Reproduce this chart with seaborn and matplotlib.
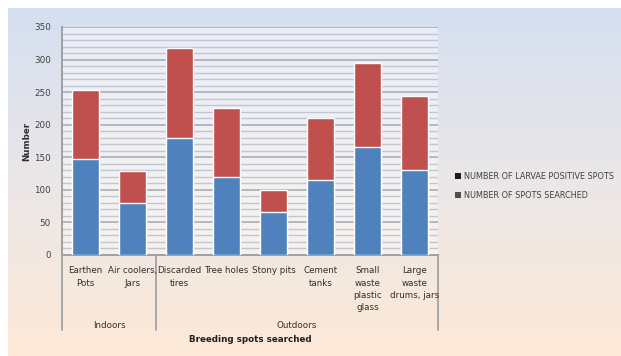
import numpy as np
import pandas as pd
import matplotlib
matplotlib.use("Agg")
import matplotlib.pyplot as plt
from matplotlib.colors import LinearSegmentedColormap
from matplotlib.patches import Patch
from matplotlib.lines import Line2D
import seaborn as sns

# Breeding spot categories (display labels, wrapped as in the category axis)
categories = ["Earthen\nPots", "Air coolers,\nJars", "Discarded\ntires", "Tree holes",
              "Stony pits", "Cement\ntanks", "Small\nwaste\nplastic\nglass",
              "Large\nwaste\ndrums, jars"]
groups = ["Indoors", "Outdoors"]
group_sizes = [2, 6]

# Stacked series
spots_searched = [147, 80, 180, 120, 66, 115, 166, 130]
larvae_positive = [106, 49, 138, 106, 34, 95, 129, 114]

series_names = ["NUMBER OF LARVAE POSITIVE SPOTS", "NUMBER OF SPOTS SEARCHED"]
y_ticks = [0, 50, 100, 150, 200, 250, 300, 350]

df = pd.DataFrame({
    "category": categories,
    "searched": spots_searched,
    "positive": larvae_positive,
})
df["total"] = df["searched"] + df["positive"]

BLUE = "#4f81bd"
RED = "#c0504d"

sns.set_theme(style="white")
plt.rcParams["font.family"] = ["DejaVu Sans"]

W, H = 621, 356
fig = plt.figure(figsize=(W / 100, H / 100), dpi=100)
fig.patch.set_facecolor("white")

# Chart-area background gradient (light blue to peach)
bg = fig.add_axes([8 / W, 0, 1 - 8 / W, 1 - 8 / H], zorder=0)
cmap = LinearSegmentedColormap.from_list("bg", ["#d5dff0", "#ebe7e8", "#fde9d6"])
grad = np.linspace(0, 1, 256).reshape(-1, 1)
bg.imshow(grad, aspect="auto", cmap=cmap, extent=[0, 1, 0, 1], origin="upper")
bg.set_axis_off()

# Plot area
x0, x1 = 62 / W, 438 / W
y_top, y_bot = 27, 255
ax = fig.add_axes([x0, 1 - y_bot / H, x1 - x0, (y_bot - y_top) / H], zorder=2)
ax.set_facecolor((1, 1, 1, 0.45))

sns.barplot(data=df, x="category", y="total", color=RED, width=0.57,
            saturation=1, ax=ax, zorder=3)
sns.barplot(data=df, x="category", y="searched", color=BLUE, width=0.57,
            saturation=1, ax=ax, zorder=4)

ax.set_ylim(0, 350)
ax.set_xlim(-0.5, len(categories) - 0.5)
ax.set_yticks(y_ticks)
ax.set_yticklabels([str(v) for v in y_ticks], fontsize=6.3, color="#404040")
ax.set_yticks(np.arange(0, 351, 10), minor=True)
ax.grid(axis="y", which="minor", color="#c2c6d2", linewidth=1.0, zorder=1)
ax.grid(axis="y", which="major", color="#a9adb9", linewidth=1.2, zorder=1)
ax.set_axisbelow(True)
ax.tick_params(axis="y", which="both", length=0, pad=8)
ax.set_xticks([])
ax.set_xlabel("")
ax.set_ylabel("Number", fontsize=6.3, fontweight="bold", color="#303030", labelpad=2)
for side in ["top", "right"]:
    ax.spines[side].set_visible(False)
ax.spines["left"].set_color("#a0a0a0")
ax.spines["left"].set_linewidth(1.4)
ax.spines["bottom"].set_color("#a0a0a0")
ax.spines["bottom"].set_linewidth(1.4)

# Category labels and the two-level group axis below the plot
trans = ax.get_xaxis_transform()
for i, lab in enumerate(categories):
    ax.text(i, -0.05, lab, transform=trans, ha="center", va="top",
            fontsize=6.3, color="#303030", linespacing=1.45, clip_on=False)

y_sep = -(330 - y_bot) / (y_bot - y_top)
edges = np.concatenate([[0], np.cumsum(group_sizes)]) - 0.5
for e in edges:
    ax.add_line(Line2D([e, e], [0, y_sep], transform=trans, color="#a8a8a8",
                       linewidth=1.4, clip_on=False))
y_grp = -(326 - y_bot) / (y_bot - y_top)
for g, a, b in zip(groups, edges[:-1], edges[1:]):
    ax.text((a + b) / 2, y_grp, g, transform=trans, ha="center", va="center",
            fontsize=6.3, color="#303030", clip_on=False)
ax.text(0.5, -(340 - y_bot) / (y_bot - y_top), "Breeding spots searched",
        transform=ax.transAxes, ha="center", va="center", fontsize=6.3,
        fontweight="bold", color="#202020", clip_on=False)

# Legend
handles = [Patch(facecolor="#1c1c1c", edgecolor="none"),
           Patch(facecolor="#505050", edgecolor="none")]
fig.legend(handles, series_names, loc="center left",
           bbox_to_anchor=(448 / W, 1 - 186 / H), frameon=False,
           fontsize=5.9, handlelength=0.7, handleheight=0.7,
           handletextpad=0.3, labelspacing=1.2, labelcolor="#404040")

fig.savefig("out.png", dpi=100, facecolor=fig.get_facecolor())
